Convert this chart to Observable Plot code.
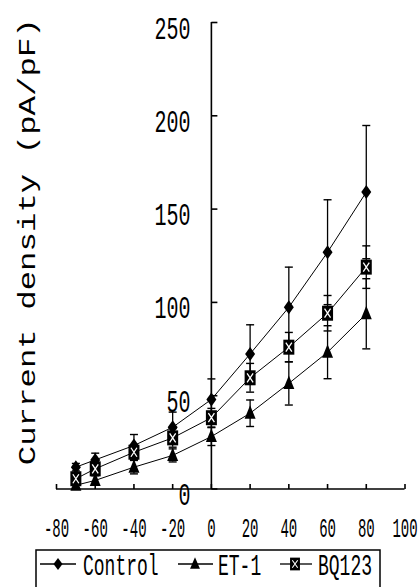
<!DOCTYPE html>
<html><head><meta charset="utf-8">
<script src="https://cdn.jsdelivr.net/npm/d3@7"></script>
<script src="https://cdn.jsdelivr.net/npm/@observablehq/plot@0.6"></script>
<style>
body{margin:0;background:#fff;}
#wrap{position:relative;width:420px;height:587px;overflow:hidden;background:#fff;}
#wrap svg{display:block;}
</style></head><body><div id="wrap"></div>
<script>
// ---- data ----
const voltage = [-70, -60, -40, -20, 0, 20, 40, 60, 80];
const control = [11.7, 15.6, 23.3, 33.1, 48.0, 72.4, 97.4, 126.9, 159.1];
const controlSD = [2.0, 3.6, 5.9, 8.1, 11.0, 15.6, 21.5, 28.1, 35.7];
const et1 = [2.0, 4.6, 11.7, 18.0, 28.1, 40.6, 56.6, 73.3, 93.9];
const et1SD = [1.5, 2.5, 3.6, 3.5, 4.8, 7.1, 11.6, 14.2, 18.8];
const bq123 = [5.5, 10.8, 19.7, 27.4, 38.2, 59.6, 76.0, 94.2, 118.9];
const bq123SD = [2.0, 3.0, 4.0, 5.0, 5.0, 7.7, 7.9, 9.5, 11.4];
const seriesNames = ["Control", "ET-1", "BQ123"];
const xTicks = [-80, -60, -40, -20, 0, 20, 40, 60, 80, 100];
const yTicks = [0, 50, 100, 150, 200, 250];
const yTitle = "Current density (pA/pF)";

const means = [control, et1, bq123];
const sds = [controlSD, et1SD, bq123SD];
const rows = [];
seriesNames.forEach((s, k) => voltage.forEach((v, i) =>
  rows.push({series: s, v, mean: means[k][i], sd: sds[k][i]})));

// ---- custom symbols (stretched like the reference) ----
const diamond = {draw(c) {c.moveTo(0, -7); c.lineTo(5, 0); c.lineTo(0, 7); c.lineTo(-5, 0); c.closePath();}};
const triangle = {draw(c) {c.moveTo(0, -8); c.lineTo(5.5, 5.5); c.lineTo(-5.5, 5.5); c.closePath();}};
const square = {draw(c) {c.moveTo(-5.5, -7.5); c.lineTo(5.5, -7.5); c.lineTo(5.5, 7.5); c.lineTo(-5.5, 7.5); c.closePath();}};
const cross = {draw(c) {c.moveTo(-3, -4.5); c.lineTo(3, 4.5); c.moveTo(3, -4.5); c.lineTo(-3, 4.5);}};
const cap = {draw(c) {c.moveTo(-4, 0); c.lineTo(4, 0);}};
const tickRight = {draw(c) {c.moveTo(0, 0); c.lineTo(6, 0);}};
const tickUp = {draw(c) {c.moveTo(0, 0); c.lineTo(0, -5);}};

const bySeries = s => rows.filter(d => d.series === s);

const svg = Plot.plot({
  width: 420,
  height: 545,
  marginLeft: 56,
  marginRight: 15.5,
  marginTop: 22,
  marginBottom: 56.5,
  x: {domain: [xTicks[0], xTicks[xTicks.length - 1]], axis: null},
  y: {domain: [yTicks[0], yTicks[yTicks.length - 1]], axis: null},
  style: {fontFamily: "'Liberation Mono', monospace", background: "#fff", color: "#000", overflow: "visible"},
  marks: [
    // axes
    Plot.ruleY([yTicks[0]], {x1: xTicks[0], x2: xTicks[xTicks.length - 1], stroke: "#000", strokeWidth: 1.6}),
    Plot.ruleX([0], {y1: yTicks[0], y2: yTicks[yTicks.length - 1], stroke: "#000", strokeWidth: 1.6}),
    Plot.dot(yTicks, {x: () => 0, y: d => d, symbol: tickRight, stroke: "#000", strokeWidth: 1.6, fill: "none"}),
    Plot.dot(xTicks, {x: d => d, y: () => yTicks[0], symbol: tickUp, stroke: "#000", strokeWidth: 1.6, fill: "none"}),
    // error bars
    Plot.ruleX(rows, {x: "v", y1: d => d.mean - d.sd, y2: d => d.mean + d.sd, stroke: "#000", strokeWidth: 1.3}),
    Plot.dot(rows, {x: "v", y: d => d.mean + d.sd, symbol: cap, stroke: "#000", strokeWidth: 1.4, fill: "none"}),
    Plot.dot(rows, {x: "v", y: d => d.mean - d.sd, symbol: cap, stroke: "#000", strokeWidth: 1.4, fill: "none"}),
    // lines
    Plot.line(rows, {x: "v", y: "mean", z: "series", stroke: "#000", strokeWidth: 1, curve: "linear"}),
    // markers
    Plot.dot(bySeries("Control"), {x: "v", y: "mean", symbol: diamond, fill: "#000", stroke: "none"}),
    Plot.dot(bySeries("ET-1"), {x: "v", y: "mean", symbol: triangle, fill: "#000", stroke: "none"}),
    Plot.dot(bySeries("BQ123"), {x: "v", y: "mean", symbol: square, fill: "#000", stroke: "none"}),
    Plot.dot(bySeries("BQ123"), {x: "v", y: "mean", symbol: cross, fill: "none", stroke: "#fff", strokeWidth: 1.3}),
    // tick labels
    Plot.text(yTicks, {x: () => 0, y: d => d, text: d => String(d), textAnchor: "end", dx: -21, dy: 6, fontSize: 20, fill: "#000"}),
    Plot.text(xTicks, {x: d => d, y: () => yTicks[0], text: d => String(d), textAnchor: "middle", dy: 39.5, fontSize: 14, fill: "#000"}),
    // y title
    Plot.text([yTitle], {frameAnchor: "left", textAnchor: "middle", text: d => d, rotate: -90, dx: -29, dy: -14, fontSize: 24, fill: "#000"})
  ]
});

const wrap = document.getElementById("wrap");
wrap.appendChild(svg);

// stretch texts to mimic the tall narrow glyphs of the reference
function stretch(node, sx, sy) {
  const t = node.getAttribute("transform") || "";
  const x = parseFloat(node.getAttribute("x")) || 0, y = parseFloat(node.getAttribute("y")) || 0;
  node.setAttribute("transform", `${t} translate(${x},${y}) scale(${sx},${sy}) translate(${-x},${-y})`);
}
d3.select(svg).selectAll("text").each(function() {
  const fs = parseFloat(getComputedStyle(this).fontSize);
  if (fs === 20) stretch(this, 1, 1.6);
  else if (fs === 14) stretch(this, 1, 2.0);
  else if (fs === 24) stretch(this, 1.35, 1);
});

// ---- legend (below the chart) ----
const leg = d3.create("svg").attr("width", 420).attr("height", 42);
leg.append("rect").attr("x", 36).attr("y", 5).attr("width", 344).attr("height", 60)
  .attr("fill", "none").attr("stroke", "#000").attr("stroke-width", 1.5);
const legItems = [
  {name: seriesNames[0], x1: 40, x2: 76, sx: 58, tx: 83, sym: diamond},
  {name: seriesNames[1], x1: 178, x2: 213, sx: 195, tx: 218, sym: triangle},
  {name: seriesNames[2], x1: 280, x2: 312, sx: 295, tx: 318, sym: square}
];
const ly = 19;
legItems.forEach(it => {
  leg.append("line").attr("x1", it.x1).attr("x2", it.x2).attr("y1", ly).attr("y2", ly)
    .attr("stroke", "#000").attr("stroke-width", 1.3);
  leg.append("path").attr("d", d3.symbol(it.sym)()).attr("transform", `translate(${it.sx},${ly}) scale(0.9,0.85)`).attr("fill", "#000");
  if (it.sym === square) {
    leg.append("path").attr("d", d3.symbol(cross)()).attr("transform", `translate(${it.sx},${ly}) scale(0.9,0.85)`)
      .attr("stroke", "#fff").attr("stroke-width", 1.2).attr("fill", "none");
  }
  leg.append("text").attr("x", 0).attr("y", 0).attr("dy", "0.35em")
    .attr("transform", `translate(${it.tx},${ly + 1}) scale(1,1.6)`)
    .attr("font-family", "'Liberation Mono', monospace").attr("font-size", 18).attr("fill", "#000")
    .text(it.name);
});
wrap.appendChild(leg.node());
</script>
</body></html>
